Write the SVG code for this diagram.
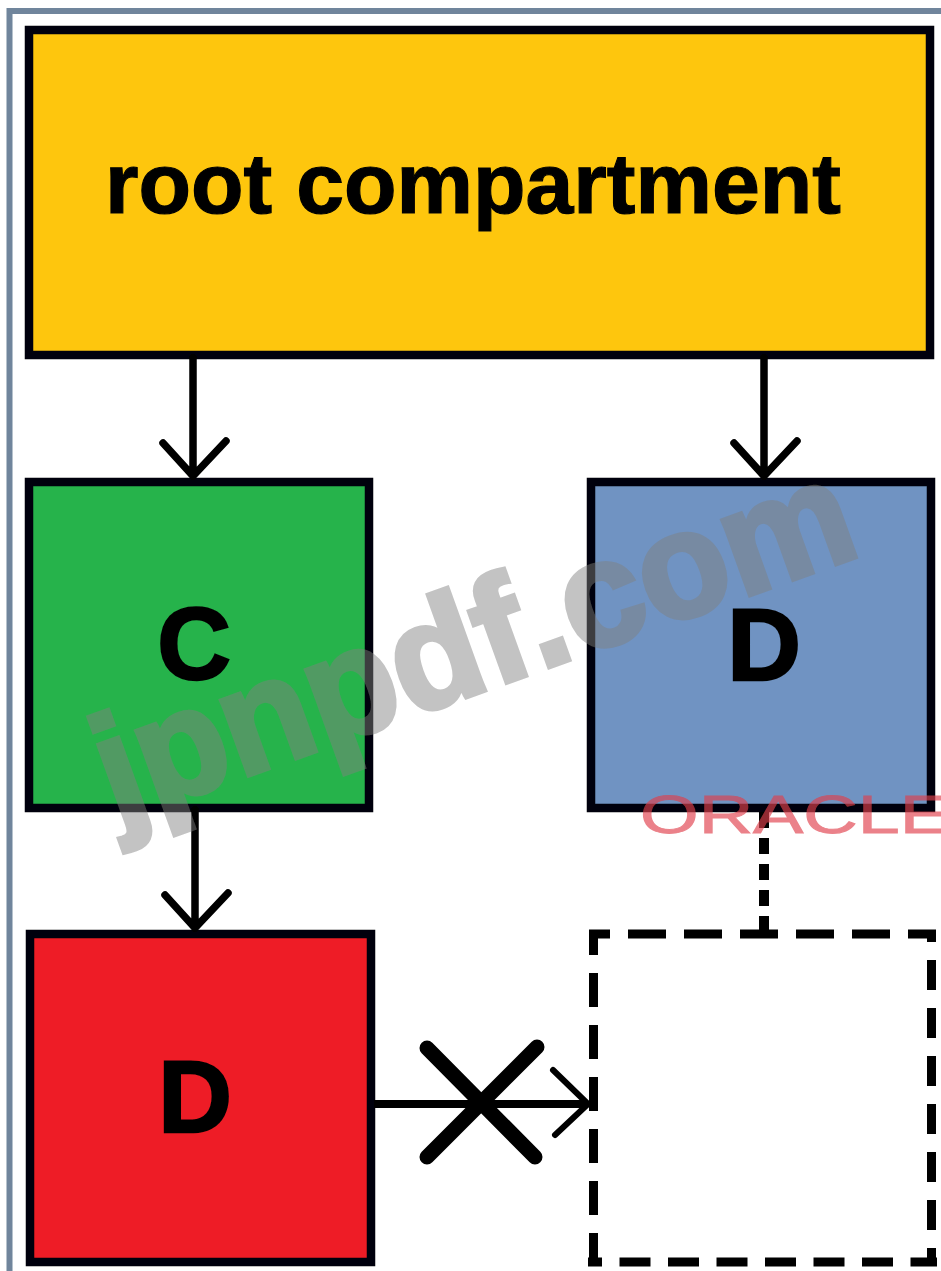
<svg xmlns="http://www.w3.org/2000/svg" width="941" height="1271" viewBox="0 0 941 1271">
<defs><filter id="soft" x="-5%" y="-5%" width="110%" height="110%"><feGaussianBlur stdDeviation="0.7"/></filter></defs>
<style>
.box{stroke:#03030a;stroke-width:8.5}
.lbl{font-family:"Liberation Sans",Arial,sans-serif;font-weight:bold;fill:#030303;stroke:#030303;text-anchor:middle}
.ln{fill:none;stroke:#000;stroke-width:7.5;stroke-linecap:round;stroke-linejoin:round}
.thin{fill:none;stroke:#000;stroke-width:6;stroke-linecap:round;stroke-linejoin:round}
.dash{fill:none;stroke:#000;stroke-width:9}
</style>
<rect width="941" height="1271" fill="#fff"/>
<g filter="url(#soft)">
<path d="M9.5 1271V11H941" fill="none" stroke="#6f859c" stroke-width="6"/>
<g id="root"><rect class="box" x="29" y="30" width="901" height="325" fill="#fec60f"/><text class="lbl" x="473" y="213" font-size="86" stroke-width="1.2">root compartment</text></g>
<g id="c"><rect class="box" x="29" y="482" width="340" height="326" fill="#27b34b"/><text class="lbl" x="194" y="679" font-size="102" stroke-width="2.5">C</text></g>
<g id="d-blue"><rect class="box" x="591" y="482" width="340" height="326" fill="#6f93c2"/><text class="lbl" x="764" y="680" font-size="102" stroke-width="2.5">D</text></g>
<g id="d-red"><rect class="box" x="30" y="934" width="341" height="328" fill="#ee1c25"/><text class="lbl" x="195" y="1132" font-size="102" stroke-width="2.5">D</text></g>
<g id="d-empty">
<path class="dash" d="M589 934H936" stroke-dasharray="38 18" stroke-dashoffset="17"/>
<path class="dash" d="M593.5 930V1266" stroke-dasharray="34 18" stroke-dashoffset="9"/>
<path class="dash" d="M931.5 930V1266" stroke-dasharray="30 18" stroke-dashoffset="18"/>
<path class="dash" d="M588 1262H937" stroke-dasharray="31 17.5" stroke-dashoffset="17"/>
</g>
<g id="connectors">
<path class="ln" d="M193 358V476M163 443L193 476L226 441"/>
<path class="ln" d="M764 358V476M734 443L764 476L797 441"/>
<path class="ln" d="M195 810V928M165 895L195 928L228 893"/>
<path d="M764 812V934" fill="none" stroke="#000" stroke-width="10" stroke-dasharray="16 10"/>
<path d="M374 1104H588" fill="none" stroke="#000" stroke-width="8"/>
<path class="thin" d="M553 1070L588 1104L555 1135"/>
<path d="M427 1048L535 1157M537 1047L427 1157" fill="none" stroke="#000" stroke-width="15" stroke-linecap="round"/>
</g>
<text x="795" y="833" font-family="Liberation Sans,Arial,sans-serif" font-size="53" fill="#e0404c" stroke="#e0404c" stroke-width="1" opacity=".65" text-anchor="middle" textLength="310" lengthAdjust="spacingAndGlyphs">ORACLE</text>
<text transform="translate(116 823) rotate(-19.8)" font-family="Liberation Sans,Arial,sans-serif" font-weight="bold" font-size="150" fill="#808080" stroke="#808080" stroke-width="5" opacity=".47" textLength="795" lengthAdjust="spacingAndGlyphs">jpnpdf.com</text>
</g>
</svg>
